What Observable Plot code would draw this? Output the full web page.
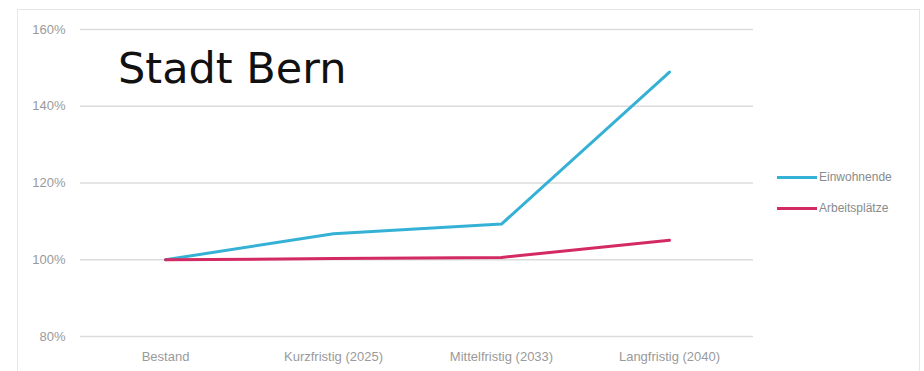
<!DOCTYPE html>
<html>
<head>
<meta charset="utf-8">
<script src="https://cdn.jsdelivr.net/npm/d3@7"></script>
<script src="https://cdn.jsdelivr.net/npm/@observablehq/plot@0.6"></script>
<style>
  html, body { margin: 0; padding: 0; background: #fff; }
  #wrap { position: relative; width: 924px; height: 371px; overflow: hidden; }
  #frame { position: absolute; left: 17px; top: 9px; width: 903px; height: 380px; border: 1.5px solid #e6e6e6; box-sizing: border-box; }
  #title { position: absolute; left: 118px; top: 47px; font-family: "DejaVu Sans", sans-serif; font-size: 43px; color: #111; line-height: 1; white-space: nowrap; }
  #legend { position: absolute; left: 777px; top: 168px; font-family: "Liberation Sans", sans-serif; font-size: 12px; color: #8a8a8a; }
  .item { display: flex; align-items: center; height: 18px; margin-bottom: 13px; }
  .swatch { width: 40px; height: 3px; margin-right: 2px; }
  svg { position: absolute; left: 0; top: 0; }
</style>
</head>
<body>
<div id="wrap">
  <div id="frame"></div>
  <div id="chart"></div>
  <div id="title">Stadt Bern</div>
  <div id="legend"></div>
</div>
<script>
const categories = ["Bestand", "Kurzfristig (2025)", "Mittelfristig (2033)", "Langfristig (2040)"];
const seriesNames = ["Einwohnende", "Arbeitsplätze"];
const einwohnende = [1.00, 1.068, 1.093, 1.489];
const arbeitsplaetze = [1.00, 1.003, 1.006, 1.051];
const yTicks = [0.8, 1.0, 1.2, 1.4, 1.6];
const colors = ["#35b1d5", "#d42a63"];

const data = [];
categories.forEach((c, i) => {
  data.push({ cat: c, series: seriesNames[0], value: einwohnende[i] });
  data.push({ cat: c, series: seriesNames[1], value: arbeitsplaetze[i] });
});

const chart = Plot.plot({
  width: 924,
  height: 371,
  marginLeft: 80,
  marginRight: 171,
  marginTop: 29,
  marginBottom: 35,
  style: { fontFamily: "Liberation Sans, sans-serif", fontSize: "13px", color: "#999", background: "transparent" },
  x: { type: "point", domain: categories, padding: 0.5, label: null },
  y: { domain: [0.8, 1.6], label: null },
  color: { domain: seriesNames, range: colors },
  marks: [
    Plot.ruleY(yTicks, { stroke: "#dcdcdc", strokeWidth: 1.5 }),
    Plot.axisY(yTicks, { tickSize: 0, tickPadding: 15, tickFormat: d3.format(".0%"), fill: "#9a9a9a" }),
    Plot.axisX({ tickSize: 0, tickPadding: 15, fill: "#9a9a9a" }),
    Plot.line(data.filter(d => d.series === seriesNames[0]), { x: "cat", y: "value", stroke: "series", strokeWidth: 3 }),
    Plot.line(data.filter(d => d.series === seriesNames[1]), { x: "cat", y: "value", stroke: "series", strokeWidth: 3 })
  ]
});
document.getElementById("chart").appendChild(chart);

const legend = document.getElementById("legend");
seriesNames.forEach((s, i) => {
  const item = document.createElement("div");
  item.className = "item";
  const sw = document.createElement("span");
  sw.className = "swatch";
  sw.style.background = colors[i];
  const t = document.createElement("span");
  t.textContent = s;
  item.appendChild(sw);
  item.appendChild(t);
  legend.appendChild(item);
});
</script>
</body>
</html>
